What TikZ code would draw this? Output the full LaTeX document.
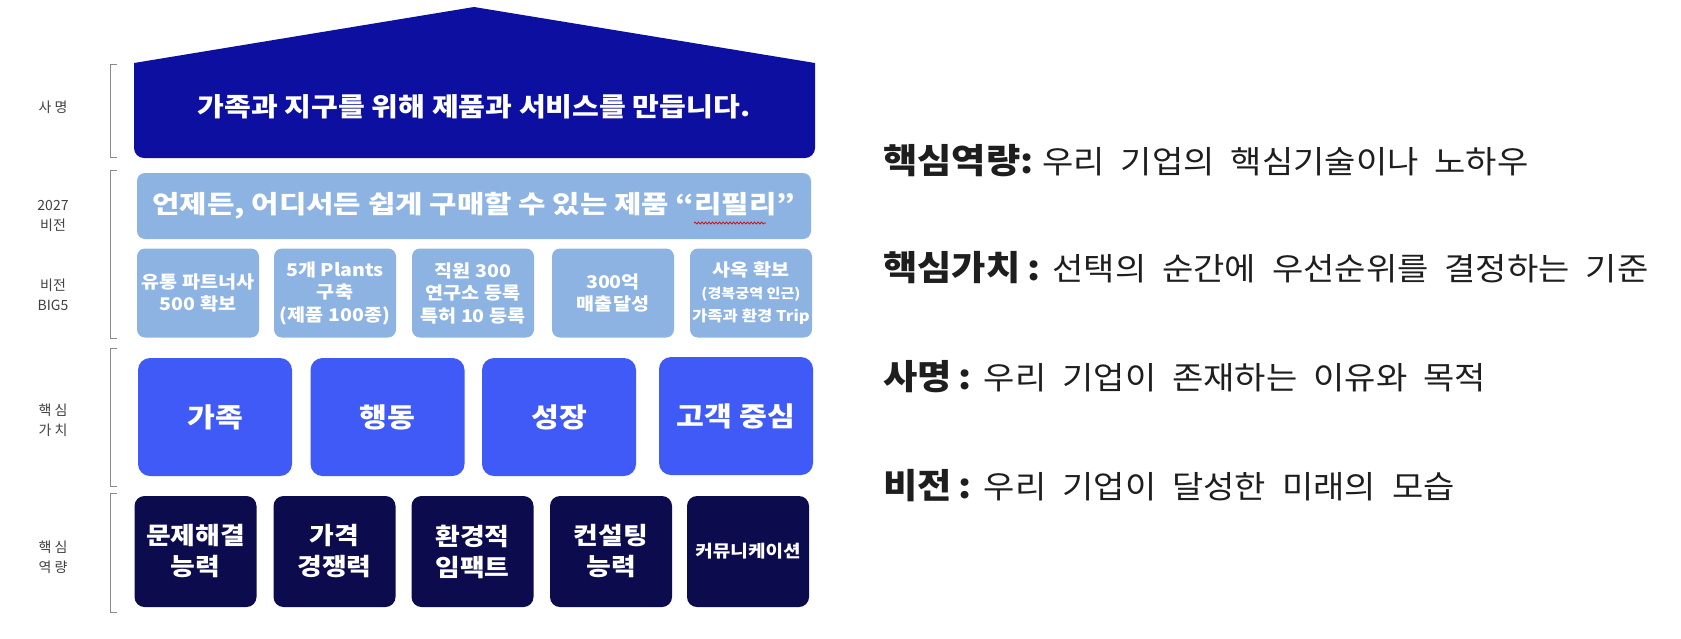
\documentclass[tikz,border=0pt]{standalone}
\usepackage{fontspec}
\setmainfont{Noto Sans CJK KR}
\newfontfamily\deffont[WordSpace=2.1, FakeStretch=1.08]{Noto Sans CJK KR}
\newfontfamily\boxfont[FakeStretch=1.12]{Noto Sans CJK KR}
\newfontfamily\visfont[FakeStretch=1.19]{Noto Sans CJK KR}
\usetikzlibrary{decorations.pathmorphing}
\definecolor{missionblue}{HTML}{0C0FA0}
\definecolor{visionblue}{HTML}{8DB3E2}
\definecolor{valueblue}{HTML}{3F5AF7}
\definecolor{compnavy}{HTML}{0C0B4D}
\definecolor{labelgray}{HTML}{404040}
\definecolor{brackgray}{HTML}{8A8A8A}
\definecolor{textdark}{HTML}{1E1E1E}
\newcommand{\termb}[1]{{\bfseries\fontsize{34.5}{36}\selectfont #1}}
\begin{document}
\begin{tikzpicture}[x=1pt,y=-1pt,
  bigbox/.style={fill=visionblue, rounded corners=8pt, text=white, inner sep=0pt,
    font=\boxfont\bfseries\fontsize{17.5}{22.5}\selectfont, align=center,
    minimum width=122pt, minimum height=89pt},
  valbox/.style={fill=valueblue, rounded corners=12pt, text=white, inner sep=0pt,
    font=\boxfont\bfseries\fontsize{27}{32}\selectfont,
    minimum width=154pt, minimum height=118pt},
  compbox/.style={fill=compnavy, rounded corners=10pt, text=white, inner sep=0pt,
    font=\boxfont\bfseries\fontsize{24}{31}\selectfont, align=center,
    minimum width=122pt, minimum height=111pt},
  sidelabel/.style={text=labelgray, font=\fontsize{14}{20}\selectfont, align=center, inner sep=0pt},
  brk/.style={draw=brackgray, line width=0.9pt},
  deflabel/.style={anchor=west, text=textdark, inner sep=0pt,
    font=\deffont\fontsize{31.5}{36}\selectfont}]
\useasboundingbox (0,0) rectangle (1681,638);

% mission house
\fill[missionblue] (134,63) -- (474,7) -- (815,63) -- (815,148)
  arc[start angle=0, end angle=-90, radius=10pt] -- (144,158)
  arc[start angle=-90, end angle=-180, radius=10pt] -- cycle;
\node[text=white, font=\boxfont\bfseries\fontsize{26}{30}\selectfont, inner sep=0pt] (mission) at (474,107)
  {가족과 지구를 위해 제품과 서비스를 만듭니다.};

% vision bar
\node[fill=visionblue, rounded corners=8pt, text=white, inner sep=0pt,
  minimum width=674pt, minimum height=66pt,
  font=\visfont\bfseries\fontsize{25}{30}\selectfont] (vision) at (474,206)
  {언제든, 어디서든 쉽게 구매할 수 있는 제품 “리필리”};
\draw[red!85!black, line width=0.7pt, decorate, decoration={snake, amplitude=1pt, segment length=3.5pt}]
  (694,223) -- (766,223);

% BIG5
\node[bigbox] (b1) at (198,293) {유통 파트너사\\500 확보};
\node[bigbox] (b2) at (335,293) {5개 Plants\\구축\\(제품 100종)};
\node[bigbox] (b3) at (473,293) {직원 300\\연구소 등록\\특허 10 등록};
\node[bigbox] (b4) at (613,293) {300억\\매출달성};
\node[bigbox] (b5) at (751,293) {사옥 확보\\{\fontsize{13.5}{22.5}\selectfont (경복궁역 인근)}\\{\fontsize{14.8}{22.5}\selectfont 가족과 환경 Trip}};

% core values
\node[valbox] (v1) at (215,417) {가족};
\node[valbox] (v2) at (387.5,417) {행동};
\node[valbox] (v3) at (559,417) {성장};
\node[valbox] (v4) at (736,416) {고객 중심};

% core competencies
\node[compbox] (c1) at (195.5,551.5) {문제해결\\능력};
\node[compbox] (c2) at (334.5,551.5) {가격\\경쟁력};
\node[compbox] (c3) at (472.5,551.5) {환경적\\임팩트};
\node[compbox] (c4) at (611,551.5) {컨설팅\\능력};
\node[compbox, font=\boxfont\bfseries\fontsize{17}{24}\selectfont] (c5) at (748,551.5) {커뮤니케이션};

% brackets
\draw[brk] (117,64) -- (110,64) -- (110,157) -- (117,157);
\draw[brk] (117,170) -- (110,170) -- (110,338) -- (117,338);
\draw[brk] (117,348) -- (110,348) -- (110,486) -- (117,486);
\draw[brk] (117,493) -- (110,493) -- (110,612) -- (117,612);

% side labels
\node[sidelabel] (l1) at (53,107) {사 명};
\node[sidelabel] (l2) at (53,216) {2027\\비전};
\node[sidelabel] (l3) at (53,295) {비전\\BIG5};
\node[sidelabel] (l4) at (53,420) {핵 심\\가 치};
\node[sidelabel] (l5) at (53,557) {핵 심\\역 량};

% definitions
\node[deflabel] (d1) at (883,161) {\termb{핵심역량:}\hspace{9pt}우리 기업의 핵심기술이나 노하우};
\node[deflabel] (d2) at (883,268) {\termb{핵심가치\hspace{7pt}:}\hspace{12pt}선택의 순간에 우선순위를 결정하는 기준};
\node[deflabel] (d3) at (883,377) {\termb{사명\hspace{7pt}:}\hspace{12pt}우리 기업이 존재하는 이유와 목적};
\node[deflabel] (d4) at (883,486) {\termb{비전\hspace{7pt}:}\hspace{12pt}우리 기업이 달성한 미래의 모습};
\end{tikzpicture}
\end{document}
